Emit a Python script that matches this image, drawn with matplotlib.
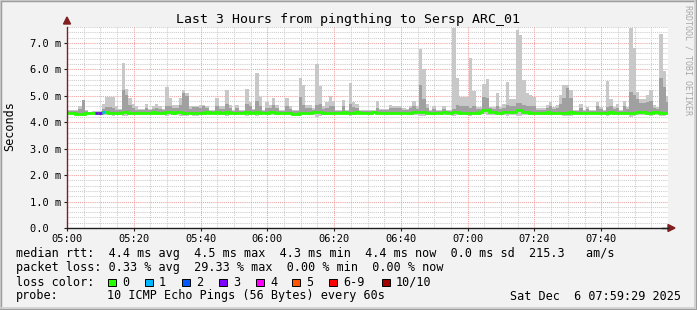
import matplotlib
matplotlib.use('Agg')
import matplotlib.pyplot as plt
from matplotlib.patches import Rectangle, Polygon
import numpy as np

plt.rcParams['font.family'] = ['DejaVu Sans Mono']

W, H = 697, 310

title = 'Last 3 Hours from pingthing to Sersp ARC_01'
time_ticks = [0, 20, 40, 60, 80, 100, 120, 140, 160]
time_labels = ['05:00', '05:20', '05:40', '06:00', '06:20', '06:40', '07:00', '07:20', '07:40']
y_ticks = [0, 1, 2, 3, 4, 5, 6, 7]
y_labels = ['0.0  ', '1.0 m', '2.0 m', '3.0 m', '4.0 m', '5.0 m', '6.0 m', '7.0 m']

# one sample per minute, first one starts ~24 s after 05:00 (values in ms)
first_sample = 0.4

rtt_median = [
    4.36, 4.36, 4.32, 4.31, 4.31, 4.35, 4.34, 4.34, 4.36, 4.36, 4.37, 4.37, 4.36, 4.36, 4.35, 4.36, 4.37, 4.37, 4.35, 4.34,
    4.34, 4.35, 4.35, 4.36, 4.36, 4.37, 4.36, 4.35, 4.36, 4.37, 4.37, 4.36, 4.37, 4.37, 4.36, 4.36, 4.34, 4.33, 4.33, 4.35,
    4.36, 4.37, 4.36, 4.36, 4.37, 4.36, 4.36, 4.37, 4.35, 4.36, 4.36, 4.35, 4.36, 4.37, 4.36, 4.36, 4.37, 4.36, 4.35, 4.36,
    4.37, 4.37, 4.36, 4.36, 4.36, 4.36, 4.35, 4.32, 4.32, 4.35, 4.36, 4.36, 4.36, 4.40, 4.39, 4.37, 4.36, 4.36, 4.35, 4.36,
    4.36, 4.36, 4.37, 4.36, 4.36, 4.36, 4.37, 4.36, 4.35, 4.36, 4.36, 4.37, 4.36, 4.36, 4.36, 4.35, 4.34, 4.34, 4.35, 4.36,
    4.36, 4.36, 4.35, 4.37, 4.38, 4.40, 4.38, 4.36, 4.36, 4.36, 4.35, 4.36, 4.37, 4.36, 4.36, 4.38, 4.37, 4.36, 4.36, 4.35,
    4.34, 4.35, 4.36, 4.38, 4.46, 4.45, 4.39, 4.37, 4.36, 4.36, 4.37, 4.37, 4.38, 4.38, 4.45, 4.46, 4.38, 4.37, 4.36, 4.36,
    4.36, 4.36, 4.36, 4.37, 4.36, 4.36, 4.36, 4.36, 4.36, 4.36, 4.37, 4.36, 4.36, 4.36, 4.36, 4.36, 4.35, 4.36, 4.36, 4.35,
    4.33, 4.35, 4.38, 4.36, 4.36, 4.36, 4.36, 4.36, 4.34, 4.34, 4.38, 4.37, 4.37, 4.36, 4.36, 4.37, 4.37, 4.36, 4.36, 4.36,
]

rtt_min = [
    4.30, 4.30, 4.27, 4.27, 4.24, 4.30, 4.29, 4.30, 4.30, 4.30, 4.26, 4.28, 4.28, 4.25, 4.28, 4.29, 4.22, 4.24, 4.27, 4.28,
    4.28, 4.29, 4.29, 4.26, 4.30, 4.28, 4.27, 4.26, 4.29, 4.25, 4.28, 4.29, 4.28, 4.24, 4.22, 4.25, 4.27, 4.25, 4.24, 4.28,
    4.28, 4.29, 4.30, 4.30, 4.27, 4.29, 4.29, 4.25, 4.29, 4.30, 4.29, 4.30, 4.30, 4.24, 4.28, 4.30, 4.22, 4.27, 4.30, 4.28,
    4.29, 4.26, 4.29, 4.30, 4.30, 4.27, 4.28, 4.25, 4.25, 4.23, 4.26, 4.29, 4.29, 4.29, 4.20, 4.25, 4.28, 4.27, 4.26, 4.27,
    4.30, 4.30, 4.27, 4.30, 4.24, 4.28, 4.28, 4.30, 4.30, 4.30, 4.30, 4.30, 4.27, 4.30, 4.30, 4.29, 4.27, 4.27, 4.27, 4.28,
    4.29, 4.30, 4.28, 4.26, 4.27, 4.23, 4.25, 4.28, 4.30, 4.29, 4.30, 4.30, 4.28, 4.30, 4.30, 4.22, 4.26, 4.27, 4.27, 4.26,
    4.24, 4.26, 4.29, 4.28, 4.30, 4.28, 4.28, 4.29, 4.27, 4.29, 4.28, 4.25, 4.27, 4.27, 4.24, 4.25, 4.27, 4.27, 4.27, 4.27,
    4.29, 4.29, 4.29, 4.28, 4.28, 4.29, 4.28, 4.27, 4.25, 4.25, 4.24, 4.30, 4.30, 4.28, 4.30, 4.28, 4.30, 4.30, 4.27, 4.28,
    4.30, 4.24, 4.27, 4.28, 4.28, 4.30, 4.27, 4.28, 4.20, 4.22, 4.26, 4.26, 4.26, 4.26, 4.25, 4.28, 4.28, 4.22, 4.24, 4.27,
]

rtt_max = [
    4.45, 4.45, 4.45, 4.60, 4.85, 4.45, 4.40, 4.42, 4.42, 4.42, 4.70, 4.95, 4.95, 4.95, 4.60, 4.50, 6.25, 5.25, 4.90, 4.70,
    4.60, 4.50, 4.50, 4.70, 4.50, 4.60, 4.70, 4.60, 4.50, 5.35, 4.90, 4.65, 4.65, 4.90, 5.22, 5.10, 4.60, 4.60, 4.60, 4.65,
    4.65, 4.60, 4.46, 4.46, 4.90, 4.60, 4.60, 5.22, 4.66, 4.46, 4.66, 4.46, 4.46, 5.26, 4.78, 4.50, 5.85, 4.97, 4.46, 4.78,
    4.65, 4.92, 4.65, 4.46, 4.46, 4.90, 4.60, 4.46, 4.46, 5.69, 5.41, 4.66, 4.66, 4.55, 6.20, 5.38, 4.60, 4.75, 5.00, 4.80,
    4.46, 4.46, 4.85, 4.46, 5.50, 4.78, 4.70, 4.46, 4.46, 4.46, 4.46, 4.46, 4.80, 4.50, 4.50, 4.50, 4.66, 4.60, 4.60, 4.62,
    4.55, 4.50, 4.62, 4.80, 4.60, 6.77, 6.00, 4.70, 4.46, 4.62, 4.46, 4.46, 4.62, 4.46, 4.46, 7.58, 5.69, 4.97, 4.97, 4.97,
    6.44, 5.18, 4.59, 4.59, 5.44, 5.64, 4.59, 4.59, 5.09, 4.59, 4.69, 5.51, 4.88, 4.88, 7.49, 7.30, 5.60, 5.09, 5.03, 4.97,
    4.55, 4.55, 4.55, 4.66, 4.75, 4.59, 4.66, 5.03, 5.41, 5.41, 5.22, 4.46, 4.46, 4.69, 4.46, 4.59, 4.46, 4.46, 4.75, 4.59,
    4.46, 5.54, 4.88, 4.59, 4.69, 4.46, 4.81, 4.59, 7.58, 6.82, 5.16, 4.86, 4.88, 5.03, 5.20, 4.66, 4.59, 7.35, 5.92, 5.00,
]

# top of the darker inner smoke band
rtt_upper = [
    4.42, 4.42, 4.42, 4.50, 4.84, 4.42, 4.40, 4.40, 4.40, 4.40, 4.50, 4.59, 4.59, 4.55, 4.48, 4.45, 5.22, 5.03, 4.66, 4.55,
    4.48, 4.45, 4.45, 4.55, 4.45, 4.50, 4.55, 4.50, 4.45, 4.62, 4.60, 4.52, 4.52, 4.66, 5.09, 5.00, 4.50, 4.58, 4.58, 4.55,
    4.62, 4.55, 4.42, 4.42, 4.60, 4.50, 4.50, 4.70, 4.52, 4.42, 4.55, 4.42, 4.42, 4.70, 4.60, 4.45, 4.80, 4.62, 4.42, 4.55,
    4.52, 4.66, 4.52, 4.42, 4.42, 4.62, 4.50, 4.42, 4.42, 4.94, 4.66, 4.52, 4.52, 4.48, 4.66, 4.70, 4.50, 4.55, 4.62, 4.60,
    4.42, 4.42, 4.60, 4.42, 4.70, 4.58, 4.55, 4.42, 4.42, 4.42, 4.42, 4.42, 4.55, 4.45, 4.45, 4.45, 4.52, 4.52, 4.52, 4.52,
    4.48, 4.45, 4.52, 4.62, 4.50, 5.41, 4.86, 4.55, 4.42, 4.50, 4.42, 4.42, 4.50, 4.42, 4.42, 4.50, 4.66, 4.62, 4.62, 4.62,
    4.55, 4.62, 4.50, 4.50, 4.97, 4.91, 4.52, 4.50, 4.62, 4.50, 4.55, 4.66, 4.62, 4.62, 4.72, 4.72, 4.66, 4.62, 4.62, 4.60,
    4.48, 4.48, 4.48, 4.55, 4.60, 4.50, 4.55, 4.70, 4.90, 5.28, 4.90, 4.42, 4.42, 4.55, 4.42, 4.50, 4.42, 4.42, 4.60, 4.50,
    4.42, 4.59, 4.62, 4.50, 4.55, 4.42, 4.62, 4.50, 5.16, 5.03, 4.86, 4.72, 4.72, 4.75, 4.80, 4.55, 4.50, 5.66, 5.35, 4.75,
]

# minutes with lost pings (index -> pings lost out of 10)
loss_events = {8: 3, 9: 3, 10: 1}

loss_names = ['0', '1', '2', '3', '4', '5', '6-9', '10/10']
loss_colors = ['#26ff00', '#00b8ff', '#0059ff', '#7e00ff', '#ff00ff', '#ff5500', '#ff0000', '#a10000']

legend_rtt = 'median rtt:  4.4 ms avg  4.5 ms max  4.3 ms min  4.4 ms now  0.0 ms sd  215.3   am/s'
legend_loss = 'packet loss: 0.33 % avg  29.33 % max  0.00 % min  0.00 % now'
probe_text = '10 ICMP Echo Pings (56 Bytes) every 60s'
stamp_text = 'Sat Dec  6 07:59:29 2025'


def fx(x):
    return x / W


def fy(y):
    return 1 - y / H


fig = plt.figure(figsize=(W / 100, H / 100), dpi=100, facecolor='#f2f2f2')

# shaded frame round the image
fig.patches.append(Rectangle((0, 0), 1, 1, transform=fig.transFigure, fill=False,
                             edgecolor='#9e9e9e', linewidth=2.5))
fig.patches.append(Rectangle((0, fy(H - 2)), fx(W - 2), 1 - fy(H - 2), transform=fig.transFigure,
                             fill=False, edgecolor='#cfcfcf', linewidth=1.2))

ax = fig.add_axes([fx(67), fy(228), fx(668 - 67), (228 - 27) / H])
ax.set_facecolor('white')
ax.set_xlim(0, 180)
ax.set_ylim(0, 7.6)

t = first_sample + np.arange(len(rtt_median))
med = np.array(rtt_median)
lo = np.array(rtt_min)
hi = np.array(rtt_max)
up = np.minimum(np.array(rtt_upper), hi)

# grid (under the smoke)
dots = (0, (1, 1))
for m in range(5, 181, 5):
    if m % 20:
        ax.axvline(m, color='#cccccc', lw=0.75, ls=dots, zorder=1)
for v in np.arange(0.2, 7.61, 0.2):
    if abs(v - round(v)) > 1e-6:
        ax.axhline(v, color='#cccccc', lw=0.75, ls=dots, zorder=1)
for m in range(20, 180, 20):
    ax.axvline(m, color='#f0a0a0', lw=0.75, ls=dots, zorder=1.1)
for v in range(1, 8):
    ax.axhline(v, color='#f0a0a0', lw=0.75, ls=dots, zorder=1.1)

# smoke
ax.bar(t, hi - lo, bottom=lo, width=1.0, align='edge', color='#c8c8c8', linewidth=0, zorder=2)
ax.bar(t, up - med, bottom=med, width=1.0, align='edge', color='#a0a0a0', linewidth=0, zorder=2.1)

# median line, coloured by loss
ax.step(np.append(t, t[-1] + 1), np.append(med, med[-1]), where='post',
        color=loss_colors[0], lw=2.0, zorder=3, solid_joinstyle='miter')
for i, n in loss_events.items():
    c = loss_colors[min(n, 6) if n < 10 else 7]
    ax.hlines(med[i], t[i], t[i] + 1, colors=c, lw=2.0, zorder=3.1)

# axes
for s in ['top', 'right']:
    ax.spines[s].set_visible(False)
ax.spines['left'].set_color('#801f1f')
ax.spines['bottom'].set_color('#1f1f1f')
ax.spines['left'].set_linewidth(1.0)
ax.spines['bottom'].set_linewidth(1.0)
ax.spines['left'].set_zorder(4)
ax.spines['bottom'].set_zorder(4)

ax.set_xticks(time_ticks)
ax.set_xticklabels(time_labels, fontsize=7.5)
ax.set_yticks(y_ticks)
ax.set_yticklabels(y_labels, fontsize=7.5)
ax.tick_params(axis='both', length=2.5, width=0.8, color='#1f1f1f', pad=2)
ax.tick_params(axis='x', pad=2)

# arrow heads
fig.patches.append(Polygon([[fx(63.5), fy(24)], [fx(70.5), fy(24)], [fx(67), fy(17)]],
                           closed=True, transform=fig.transFigure, color='#801f1f'))
fig.patches.append(Polygon([[fx(668), fy(224.5)], [fx(668), fy(231.5)], [fx(675), fy(228)]],
                           closed=True, transform=fig.transFigure, color='#801f1f'))
fig.lines.append(plt.Line2D([fx(662), fx(668)], [fy(228), fy(228)], transform=fig.transFigure,
                            color='#1f1f1f', lw=1.0))

# texts
fig.text(fx(348), fy(19), title, ha='center', va='center', fontsize=9.5)
fig.text(fx(10), fy(126), 'Seconds', rotation=90, ha='center', va='center', fontsize=8.5)
fig.text(fx(688), fy(60), 'RRDTOOL / TOBI OETIKER', rotation=270, ha='center', va='center',
         fontsize=6, color='#a8a8a8')

fig.text(fx(16), fy(254), legend_rtt, ha='left', va='center', fontsize=8.5)
fig.text(fx(16), fy(268), legend_loss, ha='left', va='center', fontsize=8.5)
fig.text(fx(16), fy(282), 'loss color:', ha='left', va='center', fontsize=8.5)
fig.text(fx(16), fy(296), 'probe:', ha='left', va='center', fontsize=8.5)
fig.text(fx(107), fy(296), probe_text, ha='left', va='center', fontsize=8.5)
fig.text(fx(681), fy(296), stamp_text, ha='right', va='center', fontsize=8.5)

box_x = [108, 145, 182, 219, 256, 292, 329, 382]
for bx, name, col in zip(box_x, loss_names, loss_colors):
    fig.patches.append(Rectangle((fx(bx), fy(286)), fx(7.5), 7.5 / H, transform=fig.transFigure,
                                 facecolor=col, edgecolor='black', linewidth=0.7))
    fig.text(fx(bx + 14), fy(282), name, ha='left', va='center', fontsize=8.5)

fig.savefig('out.png', dpi=100, facecolor=fig.get_facecolor())
